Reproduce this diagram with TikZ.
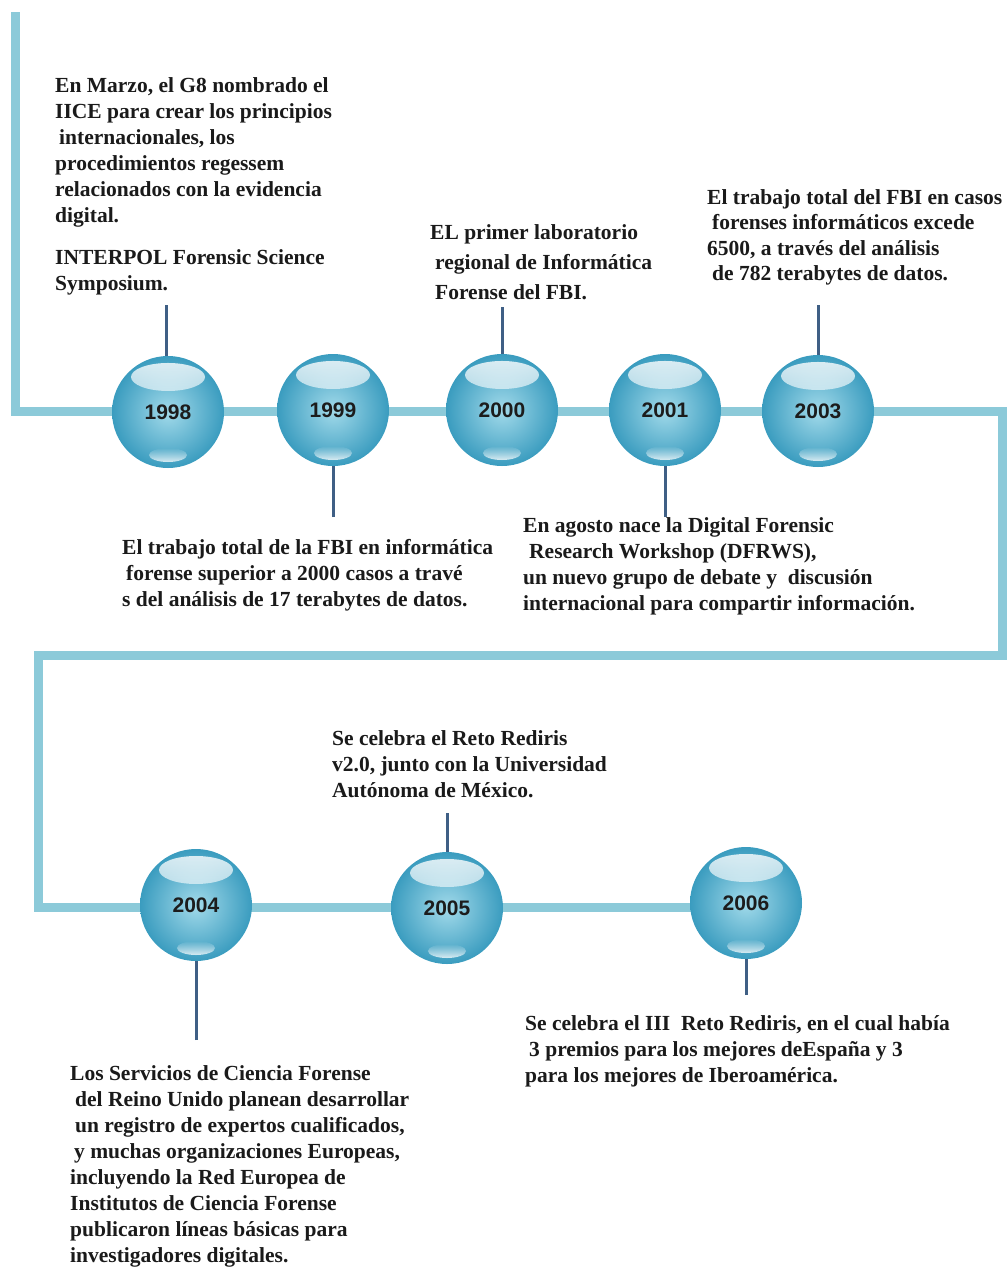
\documentclass[tikz,border=0pt]{standalone}
\usepackage{fontspec}
\usetikzlibrary{fadings}
\setmainfont{Liberation Serif}
\setsansfont{Liberation Sans}
\definecolor{trackc}{HTML}{8CCAD9}
\definecolor{stemc}{HTML}{3F5F85}
\definecolor{txtc}{HTML}{1A1A1A}
\definecolor{yearc}{HTML}{1C1C1C}
\definecolor{ballin}{HTML}{A2DAEA}
\definecolor{ballout}{HTML}{3A9CBF}
\begin{document}
\begin{tikzpicture}[x=1pt,y=-1pt,
  track/.style={draw=trackc, line width=9pt},
  stem/.style={draw=stemc, line width=3pt},
  txt/.style={anchor=north west, inner sep=0pt, align=left, text=txtc,
    font=\fontsize{21.5}{26}\selectfont\bfseries},
  ball/.style={circle, minimum size=112pt, inner sep=0pt,
    shading=radial, inner color=ballin, outer color=ballout,
    text=yearc, font=\sffamily\bfseries\fontsize{21}{24}\selectfont,
    path picture={
      \fill[white, path fading=south, fill opacity=0.85]
        ([yshift=35pt]path picture bounding box.center) ellipse (37 and 14);
      \fill[white, path fading=north, fill opacity=0.8]
        ([yshift=-43pt]path picture bounding box.center) ellipse (19 and 7);
    }}]
\useasboundingbox[fill=white] (0,0) rectangle (1007,1270);

% track
\coordinate (tA) at (15,12);
\coordinate (tB) at (15,411);
\coordinate (tC) at (1002.5,411);
\coordinate (tD) at (1002.5,655);
\coordinate (tE) at (38,655);
\coordinate (tF) at (38,907);
\coordinate (tG) at (746,907);
\draw[track] (tA) -- (tB) -- (tC) -- (tD) -- (tE) -- (tF) -- (tG);

% balls
\node[ball] (b1998) at (168,412) {1998};
\node[ball] (b1999) at (333,410) {1999};
\node[ball] (b2000) at (502,410) {2000};
\node[ball] (b2001) at (665,410) {2001};
\node[ball] (b2003) at (818,411) {2003};
\node[ball] (b2004) at (196,905) {2004};
\node[ball] (b2005) at (447,908) {2005};
\node[ball] (b2006) at (746,903) {2006};

% stem ends
\coordinate (s1998) at (166,305);
\coordinate (s1999) at (333,517);
\coordinate (s2000) at (502,307);
\coordinate (s2001) at (665,517);
\coordinate (s2003) at (818,305);
\coordinate (s2004) at (196,1040);
\coordinate (s2005) at (447,813);
\coordinate (s2006) at (746,995);
\draw[stem] (s1998) -- (b1998.north -| s1998);
\draw[stem] (s1999) -- (b1999.south);
\draw[stem] (s2000) -- (b2000.north);
\draw[stem] (s2001) -- (b2001.south);
\draw[stem] (s2003) -- (b2003.north);
\draw[stem] (s2004) -- (b2004.south);
\draw[stem] (s2005) -- (b2005.north);
\draw[stem] (s2006) -- (b2006.south);

% texts
\node[txt] (t1998) at (55,77) {En Marzo, el G8 nombrado el\\
IICE para crear los principios\\
\hspace*{4pt}internacionales, los\\
procedimientos regessem\\
relacionados con la evidencia\\
digital.\\[16pt]
INTERPOL Forensic Science\\
Symposium.};

\node[txt] (t1999) at (122,539) {El trabajo total de la FBI en informática\\
\hspace*{4pt}forense superior a 2000 casos a travé\\
s del análisis de 17 terabytes de datos.};

\node[txt, font=\fontsize{21.5}{30}\selectfont\bfseries] (t2000) at (430,224) {EL primer laboratorio\\
\hspace*{5pt}regional de Informática\\
\hspace*{5pt}Forense del FBI.};

\node[txt, font=\fontsize{21.5}{25.5}\selectfont\bfseries] (t2003) at (707,189) {El trabajo total del FBI en casos\\
\hspace*{5pt}forenses informáticos excede\\
6500, a través del análisis\\
\hspace*{5pt}de 782 terabytes de datos.};

\node[txt] (t2001) at (523,517) {En agosto nace la Digital Forensic\\
\hspace*{6pt}Research Workshop (DFRWS),\\
un nuevo grupo de debate y \ discusión\\
internacional para compartir información.};

\node[txt] (t2005) at (332,730) {Se celebra el Reto Rediris\\
v2.0, junto con la Universidad\\
Autónoma de México.};

\node[txt] (t2006) at (525,1015) {Se celebra el III \ Reto Rediris, en el cual había\\
\hspace*{4pt}3 premios para los mejores deEspaña y 3\\
para los mejores de Iberoamérica.};

\node[txt] (t2004) at (70,1065) {Los Servicios de Ciencia Forense\\
\hspace*{5pt}del Reino Unido planean desarrollar\\
\hspace*{5pt}un registro de expertos cualificados,\\
\hspace*{4pt}y muchas organizaciones Europeas,\\
incluyendo la Red Europea de\\
Institutos de Ciencia Forense\\
publicaron líneas básicas para\\
investigadores digitales.};
\end{tikzpicture}
\end{document}
